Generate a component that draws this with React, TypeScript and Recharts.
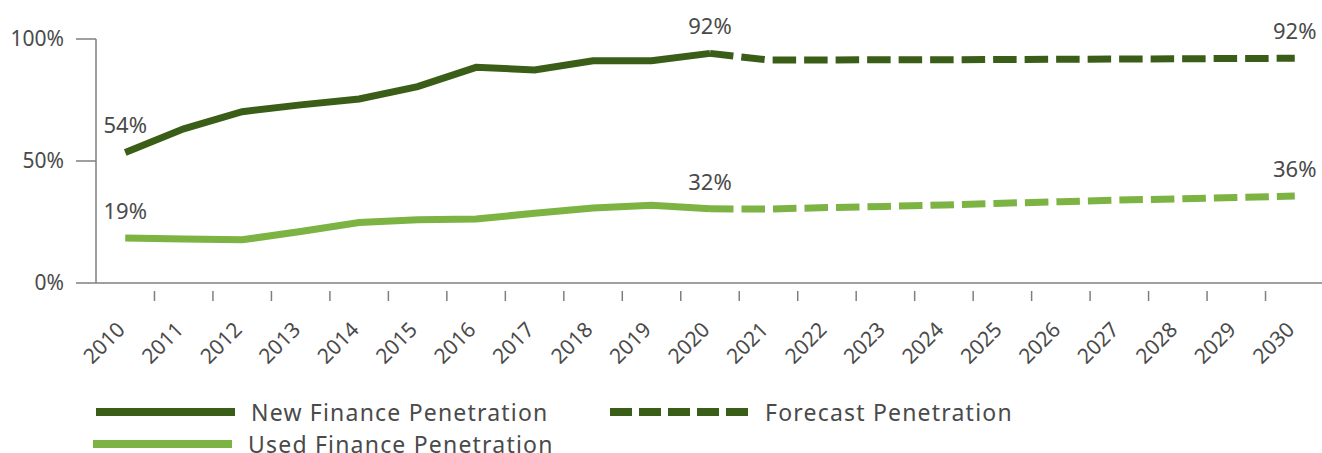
import { Line, LineChart, XAxis, YAxis } from "recharts";

// Years on the category axis.
const YEARS = [
  "2010", "2011", "2012", "2013", "2014", "2015", "2016", "2017", "2018", "2019", "2020",
  "2021", "2022", "2023", "2024", "2025", "2026", "2027", "2028", "2029", "2030",
];

// Actuals run 2010-2020, forecast picks up at 2020 so the two lines meet.
const NEW_ACTUAL = [53.5, 63.2, 70.2, 73, 75.4, 80.5, 88.4, 87.3, 91.1, 91.1, 94.1];
const NEW_FORECAST = [94.1, 91.4, 91.4, 91.5, 91.5, 91.6, 91.7, 91.8, 91.9, 92.0, 92.1];
const USED_ACTUAL = [18.4, 18.0, 17.7, 21.1, 24.8, 25.9, 26.2, 28.6, 30.7, 31.9, 30.4];
const USED_FORECAST = [30.4, 30.3, 30.9, 31.4, 32.0, 32.7, 33.3, 34.0, 34.5, 35.0, 35.7];

// Callout text shown over selected points (as printed on the original).
const NEW_LABELS: Record<string, string> = { "2010": "54%", "2020": "92%" };
const NEW_FORECAST_LABELS: Record<string, string> = { "2030": "92%" };
const USED_LABELS: Record<string, string> = { "2010": "19%", "2020": "32%" };
const USED_FORECAST_LABELS: Record<string, string> = { "2030": "36%" };

const Y_TICKS = [0, 50, 100];

const DARK = "#3a5e17";
const LIGHT = "#7cb342";
const AXIS = "#7f7f7f";
const TEXT = "#4a4a4a";
const FONT = "'Noto Sans', sans-serif";

const rows = YEARS.map((year, i) => ({
  year,
  newActual: i < NEW_ACTUAL.length ? NEW_ACTUAL[i] : null,
  newForecast: i >= 10 ? NEW_FORECAST[i - 10] : null,
  usedActual: i < USED_ACTUAL.length ? USED_ACTUAL[i] : null,
  usedForecast: i >= 10 ? USED_FORECAST[i - 10] : null,
}));

const LEGEND = [
  { name: "New Finance Penetration", color: DARK, dashed: false, left: 96, top: 403 },
  { name: "Forecast Penetration", color: DARK, dashed: true, left: 610, top: 403 },
  { name: "Used Finance Penetration", color: LIGHT, dashed: false, left: 93, top: 435 },
];

function pointLabel(labels: Record<string, string>) {
  return (props: any) => {
    const { x, y, index } = props;
    const text = labels[YEARS[index]];
    if (!text) return null;
    return (
      <text
        key={`lbl-${index}`}
        x={x}
        y={y - 19}
        textAnchor="middle"
        fill={TEXT}
        fontSize={22}
        fontFamily={FONT}
      >
        {text}
      </text>
    );
  };
}

function YearTick(props: any) {
  const { x, y, payload } = props;
  const half = payload.offset || 29.24;
  return (
    <g>
      <line x1={x + half} y1={y} x2={x + half} y2={y + 10} stroke={AXIS} strokeWidth={1.5} />
      <text
        x={x + 1}
        y={y + 40}
        transform={`rotate(-45 ${x + 1} ${y + 40})`}
        textAnchor="end"
        fill={TEXT}
        fontSize={21}
        fontFamily={FONT}
      >
        {payload.value}
      </text>
    </g>
  );
}

function LegendBlock() {
  return (
    <>
      {LEGEND.map((item) => (
        <div
          key={item.name}
          style={{
            position: "absolute",
            left: item.left,
            top: item.top,
            display: "flex",
            alignItems: "center",
            height: 18,
          }}
        >
          <svg width={140} height={10} style={{ display: "block" }}>
            <line
              x1={0}
              y1={5}
              x2={139}
              y2={5}
              stroke={item.color}
              strokeWidth={8}
              strokeDasharray={item.dashed ? "22 7" : undefined}
            />
          </svg>
          <span
            style={{
              marginLeft: 15,
              fontSize: 23,
              lineHeight: "18px",
              letterSpacing: 1.2,
              color: TEXT,
              fontFamily: FONT,
              whiteSpace: "nowrap",
            }}
          >
            {item.name}
          </span>
        </div>
      ))}
    </>
  );
}

export default function App() {
  return (
    <div
      style={{
        position: "fixed",
        left: 0,
        top: 0,
        width: 1322,
        height: 453,
        overflow: "hidden",
        background: "#fff",
      }}
    >
      <LineChart
        width={1340}
        height={453}
        data={rows}
        margin={{ top: 39, right: 16, left: 0, bottom: 110 }}
      >
        <XAxis
          dataKey="year"
          scale="band"
          interval={0}
          height={60}
          tickLine={false}
          axisLine={{ stroke: AXIS, strokeWidth: 1.5 }}
          tick={<YearTick />}
        />
        <YAxis
          domain={[0, 100]}
          ticks={Y_TICKS}
          width={96}
          tickSize={20}
          tickMargin={12}
          tickFormatter={(v) => `${v}%`}
          tick={{ fill: TEXT, fontSize: 21, fontFamily: FONT }}
          tickLine={{ stroke: AXIS, strokeWidth: 1.5 }}
          axisLine={{ stroke: AXIS, strokeWidth: 1.5 }}
        />
        <Line
          dataKey="newActual"
          stroke={DARK}
          strokeWidth={7}
          dot={false}
          activeDot={false}
          isAnimationActive={false}
          label={pointLabel(NEW_LABELS)}
        />
        <Line
          dataKey="newForecast"
          stroke={DARK}
          strokeWidth={7}
          strokeDasharray="23.5 8"
          dot={false}
          activeDot={false}
          isAnimationActive={false}
          label={pointLabel(NEW_FORECAST_LABELS)}
        />
        <Line
          dataKey="usedActual"
          stroke={LIGHT}
          strokeWidth={7}
          dot={false}
          activeDot={false}
          isAnimationActive={false}
          label={pointLabel(USED_LABELS)}
        />
        <Line
          dataKey="usedForecast"
          stroke={LIGHT}
          strokeWidth={7}
          strokeDasharray="23.5 8"
          dot={false}
          activeDot={false}
          isAnimationActive={false}
          label={pointLabel(USED_FORECAST_LABELS)}
        />
      </LineChart>
      <LegendBlock />
    </div>
  );
}
